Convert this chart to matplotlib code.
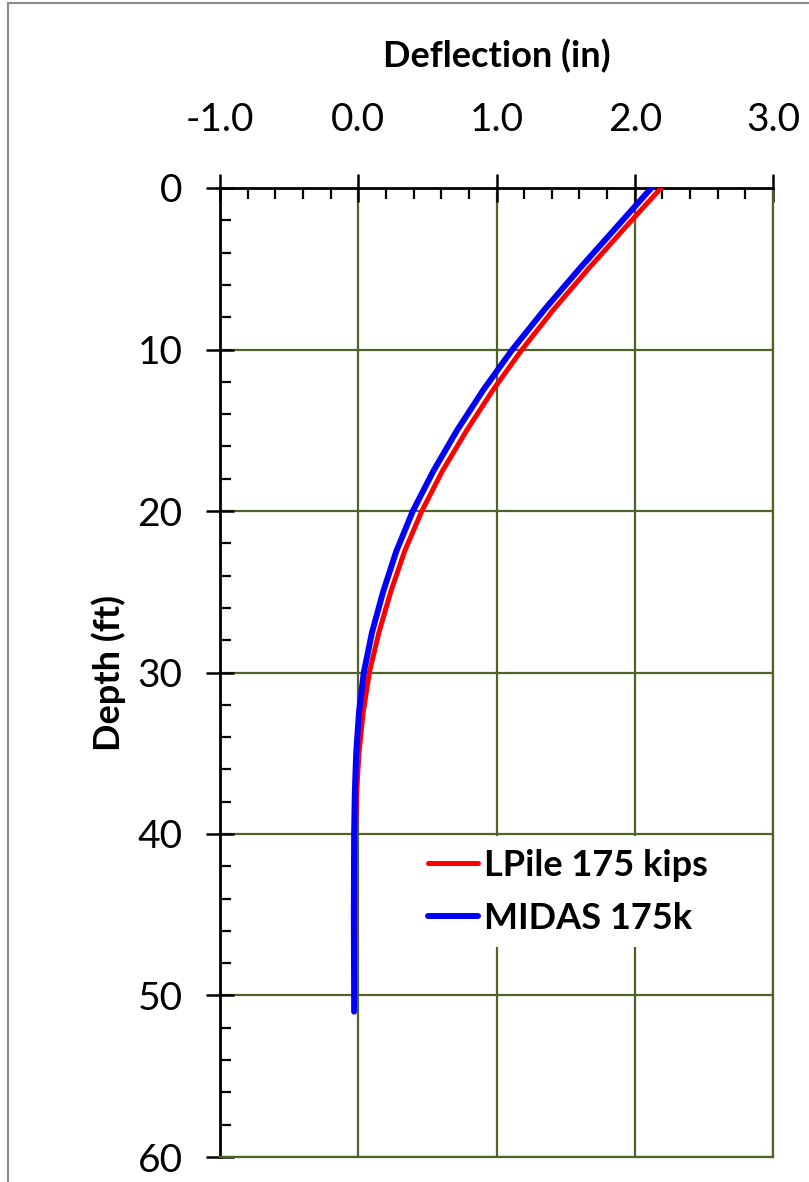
import matplotlib.pyplot as plt
from matplotlib.patches import Rectangle
from matplotlib.ticker import MultipleLocator

# depth (ft) and deflection (in)
depth_lpile = [0, 2.5, 5, 7.5, 10, 12.5, 15, 17.5, 20, 22.5, 25, 27.5, 30,
               32.5, 35, 37.5, 40, 45, 50]
defl_lpile = [2.19, 1.925, 1.665, 1.415, 1.185, 0.975, 0.785, 0.61, 0.46, 0.335,
              0.235, 0.15, 0.08, 0.035, 0.005, -0.012, -0.02, -0.025, -0.025]

depth_midas = [0, 2.5, 5, 7.5, 10, 12.5, 15, 17.5, 20, 22.5, 25, 27.5, 30,
               32.5, 35, 37.5, 40, 45, 50, 51]
defl_midas = [2.12, 1.86, 1.60, 1.35, 1.115, 0.905, 0.715, 0.545, 0.395, 0.275,
              0.18, 0.10, 0.04, 0.005, -0.015, -0.025, -0.03, -0.032, -0.03,
              -0.03]

x_ticks = [-1.0, 0.0, 1.0, 2.0, 3.0]
y_ticks = [0, 10, 20, 30, 40, 50, 60]

grid_col = '#4f6228'
plt.rcParams['font.family'] = ['Lato', 'DejaVu Sans']

fig = plt.figure(figsize=(8.09, 11.82), dpi=100)
# grey outer frame, cut off at the right and bottom edges
fig.patches.append(Rectangle((8 / 809, -0.1), 1.2, 1.1 - 3 / 1182,
                             transform=fig.transFigure, fill=False,
                             edgecolor='#8c8c8c', linewidth=1.5))
ax = fig.add_axes([220 / 809, 1 - 1157 / 1182, (773 - 220) / 809, (1157 - 188) / 1182])

ax.plot(defl_lpile, depth_lpile, color='red', lw=3.6, solid_capstyle='round',
        solid_joinstyle='round', label='LPile 175 kips', zorder=3)
ax.plot(defl_midas, depth_midas, color='blue', lw=4.3, solid_capstyle='round',
        solid_joinstyle='round', label='MIDAS 175k', zorder=4)

ax.set_xlim(-1.0, 3.0)
ax.set_ylim(60, 0)
ax.xaxis.tick_top()
ax.xaxis.set_label_position('top')
ax.set_xticks(x_ticks)
ax.set_xticklabels(['%.1f' % v for v in x_ticks])
ax.set_yticks(y_ticks)
ax.xaxis.set_minor_locator(MultipleLocator(0.2))
ax.yaxis.set_minor_locator(MultipleLocator(2))

ax.grid(True, which='major', color=grid_col, lw=1.6, zorder=1)
ax.tick_params(which='major', direction='inout', length=20, width=1.8,
               labelsize=28, pad=17)
ax.tick_params(axis='x', which='major', pad=26)
ax.tick_params(which='minor', direction='in', length=8, width=1.6)
ax.tick_params(axis='x', which='both', top=True, bottom=False)

for side in ['left', 'top']:
    ax.spines[side].set_color('black')
    ax.spines[side].set_linewidth(2)
for side in ['right', 'bottom']:
    ax.spines[side].set_color(grid_col)
    ax.spines[side].set_linewidth(1.6)

ax.set_xlabel('Deflection (in)', fontsize=26, fontweight='bold', labelpad=25)
ax.set_ylabel('Depth (ft)', fontsize=26, fontweight='bold', labelpad=8)

leg = ax.legend(loc='upper left', bbox_to_anchor=(0.353, 0.331), fontsize=26,
                frameon=True, fancybox=False, handlelength=1.4,
                handletextpad=0.15, borderpad=0.35, labelspacing=0.55,
                borderaxespad=0)
leg.get_frame().set_edgecolor('none')
leg.get_frame().set_facecolor('white')
leg.get_frame().set_alpha(1)
for t in leg.get_texts():
    t.set_fontweight('bold')

fig.savefig('out.png', dpi=100)
